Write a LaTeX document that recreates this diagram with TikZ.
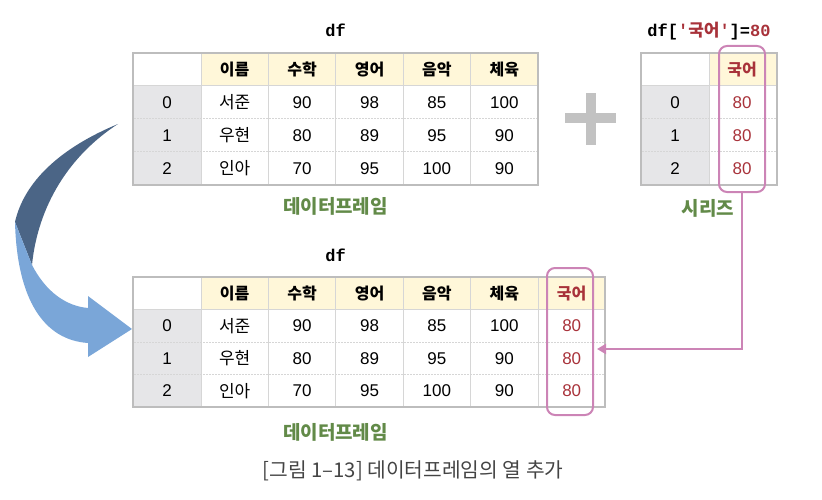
\documentclass[tikz,border=0pt]{standalone}
\usepackage{fontspec}
\setmainfont{Liberation Sans}
\newfontfamily\kr{Noto Sans CJK KR}
\newfontfamily\mono{Liberation Mono}
\usetikzlibrary{arrows.meta}
\definecolor{hdrfill}{HTML}{FFF7D9}
\definecolor{idxfill}{HTML}{E6E6E8}
\definecolor{innerc}{HTML}{D6D6D6}
\definecolor{outerc}{HTML}{BDBDBD}
\definecolor{grn}{HTML}{628A48}
\definecolor{redc}{HTML}{A8323A}
\definecolor{pinkc}{HTML}{CC84B6}
\definecolor{capc}{HTML}{444444}
\definecolor{darkarrow}{HTML}{4B6586}
\definecolor{lightarrow}{HTML}{7AA6D8}
\definecolor{plusc}{HTML}{C2C2C2}
\begin{document}
\begin{tikzpicture}[x=1pt,y=-1pt,
  innerline/.style={draw=innerc,line width=1pt},
  dotline/.style={draw=innerc,line width=1pt,dash pattern=on 1.5pt off 1.5pt},
  outerline/.style={draw=outerc,line width=2.5pt},
  cell/.style={inner sep=0pt,text=black,font=\fontsize{17}{19}\selectfont},
  hdr/.style={inner sep=0pt,text=black,font=\kr\bfseries\fontsize{16}{18}\selectfont},
  title/.style={inner sep=0pt,font=\mono\bfseries\fontsize{17}{19}\selectfont},
  label/.style={inner sep=0pt,text=grn,font=\kr\bfseries\fontsize{19}{21}\selectfont},
  pinkbox/.style={draw=pinkc,line width=2pt,rounded corners=8pt,inner sep=0pt},
  pinkline/.style={draw=pinkc,line width=2pt,-{Triangle[length=9pt,width=10pt]}},
  redtxt/.style={text=redc}]
\useasboundingbox (0,0) rectangle (822,500);

% ---------- curved arrow ----------
\fill[darkarrow] (118,124) .. controls (60,148) and (24,182) .. (15,222)
  -- (32,265) .. controls (38,205) and (70,155) .. (118,124) -- cycle;
\fill[lightarrow] (15,222) -- (32,265) .. controls (46,292) and (66,306) .. (88,308)
  -- (88,296) -- (132,329) -- (88,357) -- (88,343)
  .. controls (44,340) and (17,300) .. (15,222) -- cycle;

% ---------- top table ----------
\fill[hdrfill] (201,53) rectangle (538,86);
\fill[idxfill] (133,86) rectangle (201,185);
\foreach \x in {201,268.4,335.8,403.2,470.6} \draw[innerline] (\x,53) -- (\x,185);
\draw[innerline] (133,86) -- (538,86);
\foreach \y in {119,152} \draw[dotline] (134,\y) -- (537,\y);
\draw[outerline] (133,53) rectangle (538,185);
\foreach \i/\r in {0/102.5,1/135.5,2/168.5} \node[cell] (a-idx\i) at (167,\r) {\i};
\foreach \c/\f/\h/\p/\q/\s [count=\k] in {234.7/\kr/이름/서준/우현/인아,
   302.1/\relax/수학/90/80/70, 369.5/\relax/영어/98/89/95,
   436.9/\relax/음악/85/95/100, 504.3/\relax/체육/100/90/90} {
  \node[hdr] (a-h\k) at (\c,69.5) {\h};
  \node[cell] (a-\k-0) at (\c,102.5) {\f\p};
  \node[cell] (a-\k-1) at (\c,135.5) {\f\q};
  \node[cell] (a-\k-2) at (\c,168.5) {\f\s};
}
\node[title] (atitle) at (335.5,30) {df};
\node[label] (alabel) at (335.5,206) {데이터프레임};

% ---------- plus ----------
\fill[plusc] (565,113.5) rectangle (616,123.5);
\fill[plusc] (585.5,93) rectangle (595.5,145);

% ---------- series ----------
\fill[hdrfill] (709,53) rectangle (777,86);
\fill[idxfill] (641,86) rectangle (709,185);
\draw[innerline] (709,53) -- (709,185);
\draw[innerline] (641,86) -- (777,86);
\foreach \y in {119,152} \draw[dotline] (642,\y) -- (776,\y);
\draw[outerline] (641,53) rectangle (777,185);
\foreach \i/\r in {0/102.5,1/135.5,2/168.5} {
  \node[cell] (s-idx\i) at (675,\r) {\i};
  \node[cell,redtxt] (s-v\i) at (742,\r) {80};
}
\node[hdr,redtxt] (s-h) at (742,69.5) {국어};
\node[title] (stitle) at (709,31) {df[\textcolor{redc}{'{\kr\bfseries 국어}'}]=\textcolor{redc}{80}};
\node[label] (slabel) at (708,208) {시리즈};
\node[pinkbox,minimum width=46pt,minimum height=146pt] (sbox) at (742,119) {};

% ---------- bottom table ----------
\fill[hdrfill] (201,277) rectangle (605,309.5);
\fill[idxfill] (133,309.5) rectangle (201,407);
\foreach \x in {201,268.4,335.8,403.2,470.6,538} \draw[innerline] (\x,277) -- (\x,407);
\draw[innerline] (133,309.5) -- (605,309.5);
\foreach \y in {342,374.5} \draw[dotline] (134,\y) -- (604,\y);
\draw[outerline] (133,277) rectangle (605,407);
\foreach \i/\r in {0/325.75,1/358.25,2/390.75} \node[cell] (b-idx\i) at (167,\r) {\i};
\foreach \c/\f/\h/\p/\q/\s [count=\k] in {234.7/\kr/이름/서준/우현/인아,
   302.1/\relax/수학/90/80/70, 369.5/\relax/영어/98/89/95,
   436.9/\relax/음악/85/95/100, 504.3/\relax/체육/100/90/90} {
  \node[hdr] (b-h\k) at (\c,293.25) {\h};
  \node[cell] (b-\k-0) at (\c,325.75) {\f\p};
  \node[cell] (b-\k-1) at (\c,358.25) {\f\q};
  \node[cell] (b-\k-2) at (\c,390.75) {\f\s};
}
\node[hdr,redtxt] (b-h6) at (571.7,293.25) {국어};
\foreach \i/\r in {0/325.75,1/358.25,2/390.75} \node[cell,redtxt] (b-6-\i) at (571.7,\r) {80};
\node[title] (btitle) at (335.5,255) {df};
\node[label] (blabel) at (335.5,432) {데이터프레임};
\node[pinkbox,minimum width=46pt,minimum height=147pt] (bbox) at (570,341.5) {};

% ---------- connector ----------
\coordinate (arrowend) at (597,349);
\draw[pinkline] (sbox.south) |- (arrowend);

% ---------- caption ----------
\node[inner sep=0pt,text=capc,font=\kr\fontsize{20.3}{22}\selectfont] (cap) at (413,471) {[그림 1–13] 데이터프레임의 열 추가};
\end{tikzpicture}
\end{document}
